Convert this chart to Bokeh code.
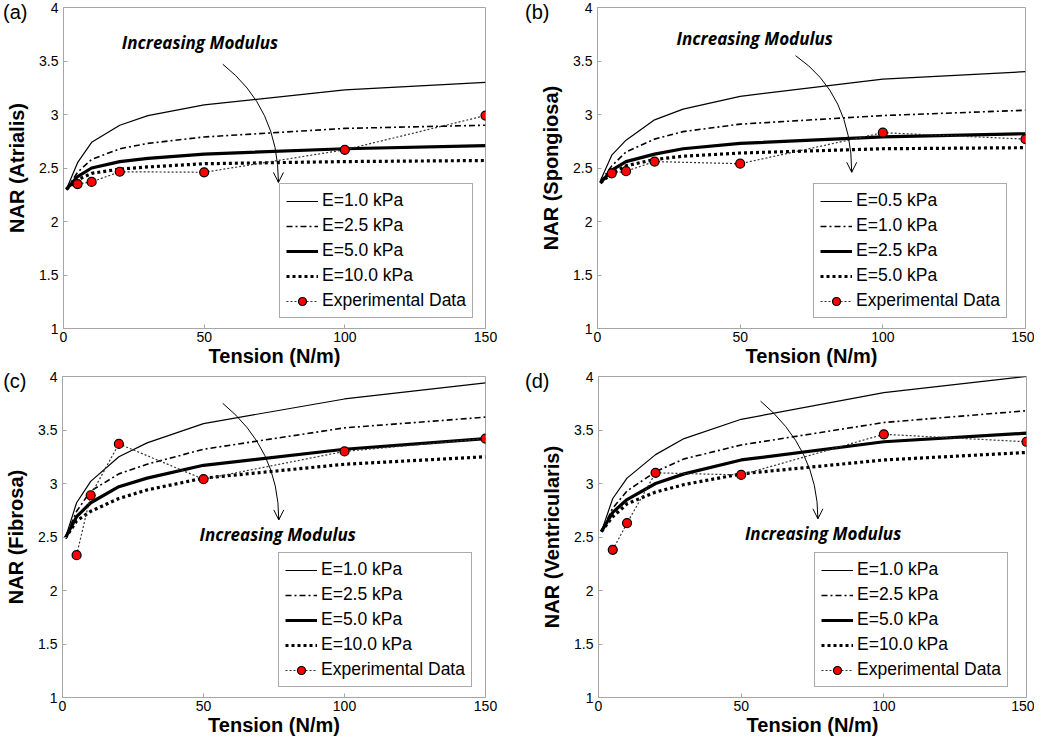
from bokeh.plotting import figure
from bokeh.layouts import column, row
from bokeh.models import (Range1d, FixedTicker, CustomJSTickFormatter, LinearAxis,
                          Legend, LegendItem, Label, Arrow, OpenHead)
from bokeh.embed import file_html
from bokeh.resources import INLINE

# ---------------- data ----------------
tension = [1, 5, 10, 20, 30, 50, 100, 150]
tension_exp = [5, 10, 20, 50, 100, 150]

x_ticks = [0, 50, 100, 150]
y_ticks = [1, 1.5, 2, 2.5, 3, 3.5, 4]

# (a) Atrialis
a_labels = ["E=1.0 kPa", "E=2.5 kPa", "E=5.0 kPa", "E=10.0 kPa", "Experimental Data"]
a_c1 = [2.30, 2.55, 2.74, 2.90, 2.99, 3.09, 3.23, 3.30]
a_c2 = [2.30, 2.46, 2.58, 2.68, 2.73, 2.79, 2.87, 2.90]
a_c3 = [2.30, 2.42, 2.50, 2.56, 2.59, 2.63, 2.68, 2.71]
a_c4 = [2.30, 2.39, 2.45, 2.49, 2.51, 2.54, 2.56, 2.57]
a_exp = [2.35, 2.37, 2.465, 2.46, 2.67, 2.99]

# (b) Spongiosa
b_labels = ["E=0.5 kPa", "E=1.0 kPa", "E=2.5 kPa", "E=5.0 kPa", "Experimental Data"]
b_c1 = [2.38, 2.62, 2.76, 2.95, 3.05, 3.17, 3.33, 3.40]
b_c2 = [2.37, 2.52, 2.65, 2.77, 2.84, 2.91, 2.99, 3.04]
b_c3 = [2.36, 2.48, 2.56, 2.63, 2.68, 2.73, 2.79, 2.82]
b_c4 = [2.36, 2.45, 2.52, 2.58, 2.61, 2.64, 2.68, 2.69]
b_exp = [2.45, 2.47, 2.56, 2.54, 2.83, 2.77]

# (c) Fibrosa
c_labels = ["E=1.0 kPa", "E=2.5 kPa", "E=5.0 kPa", "E=10.0 kPa", "Experimental Data"]
c_c1 = [2.49, 2.82, 3.02, 3.25, 3.38, 3.56, 3.79, 3.94]
c_c2 = [2.49, 2.74, 2.93, 3.09, 3.18, 3.32, 3.52, 3.62]
c_c3 = [2.49, 2.69, 2.82, 2.97, 3.05, 3.17, 3.32, 3.42]
c_c4 = [2.49, 2.65, 2.74, 2.86, 2.94, 3.05, 3.18, 3.25]
c_exp = [2.33, 2.89, 3.37, 3.04, 3.30, 3.42]

# (d) Ventricularis
d_labels = ["E=1.0 kPa", "E=2.5 kPa", "E=5.0 kPa", "E=10.0 kPa", "Experimental Data"]
d_c1 = [2.55, 2.86, 3.05, 3.27, 3.42, 3.60, 3.85, 4.00]
d_c2 = [2.55, 2.77, 2.93, 3.11, 3.23, 3.36, 3.57, 3.68]
d_c3 = [2.55, 2.73, 2.85, 3.00, 3.09, 3.22, 3.39, 3.47]
d_c4 = [2.55, 2.69, 2.81, 2.92, 2.99, 3.09, 3.22, 3.29]
d_exp = [2.38, 2.63, 3.10, 3.08, 3.46, 3.39]

# annotation positions (data units): text x,y ; arrow start, control, end
a_note = dict(tx=48.5, ty=3.67, x0=56.6, y0=3.47, cx=76.4, cy=3.06, x1=76.4, y1=2.365)
b_note = dict(tx=55.1, ty=3.71, x0=69.4, y0=3.55, cx=89.1, cy=3.19, x1=89.1, y1=2.46)
c_note = dict(tx=76.3, ty=2.52, x0=56.8, y0=3.75, cx=76.7, cy=3.32, x1=76.7, y1=2.66)
d_note = dict(tx=78.7, ty=2.53, x0=56.8, y0=3.77, cx=76.9, cy=3.32, x1=76.9, y1=2.67)

LETTER_Y = 3.97
FONT = "Liberation Sans"
GRAY = "#a6a6a6"


def make_panel(letter, letter_shift, ylabel, curves, exp, labels, note,
               width, height, bl, br, bt, bb):
    p = figure(width=width, height=height, output_backend="svg", toolbar_location=None,
               x_range=Range1d(0, 150), y_range=Range1d(1, 4),
               min_border_left=bl, min_border_right=br, min_border_top=bt,
               min_border_bottom=bb)
    p.xgrid.visible = False
    p.ygrid.visible = False
    p.outline_line_color = GRAY
    p.outline_line_width = 1
    p.background_fill_color = "white"
    p.border_fill_color = "white"

    for ax in (p.xaxis[0], p.yaxis[0]):
        ax.axis_line_color = GRAY
        ax.major_tick_line_color = GRAY
        ax.major_tick_in = 4
        ax.major_tick_out = 0
        ax.minor_tick_line_color = None
        ax.major_label_text_font = FONT
        ax.major_label_text_font_size = "14px"
        ax.major_label_text_color = "black"
        ax.axis_label_text_font = FONT
        ax.axis_label_text_font_size = "20px"
        ax.axis_label_text_font_style = "bold"
        ax.axis_label_text_color = "black"
    p.xaxis[0].ticker = FixedTicker(ticks=x_ticks)
    p.yaxis[0].ticker = FixedTicker(ticks=y_ticks)
    p.yaxis[0].formatter = CustomJSTickFormatter(code="return String(tick);")
    p.xaxis[0].major_label_standoff = 3
    p.xaxis[0].axis_label_standoff = 0
    p.yaxis[0].major_label_standoff = 5
    p.yaxis[0].axis_label_standoff = 8
    p.xaxis[0].axis_label = "Tension (N/m)"
    p.yaxis[0].axis_label = ylabel

    # panel letter, drawn as the single tick label of an outer, line-less axis
    letter_axis = LinearAxis(ticker=FixedTicker(ticks=[LETTER_Y]),
                             formatter=CustomJSTickFormatter(args=dict(t=letter), code="return t;"),
                             axis_line_color=None, major_tick_line_color=None,
                             minor_tick_line_color=None, major_tick_in=0, major_tick_out=0,
                             major_label_standoff=letter_shift,
                             major_label_text_font=FONT, major_label_text_font_size="20px",
                             major_label_text_color="black")
    p.add_layout(letter_axis, "left")

    c1, c2, c3, c4 = curves
    r1 = p.line(tension, c1, line_color="black", line_width=1.2)
    r2 = p.line(tension, c2, line_color="black", line_width=1.6, line_dash="6 3 2 3")
    r3 = p.line(tension, c3, line_color="black", line_width=3.2)
    r4 = p.line(tension, c4, line_color="black", line_width=3.2, line_dash="3 3")
    r5 = p.line(tension_exp, exp, line_color="#333333", line_width=1.2, line_dash="2 2")
    r6 = p.scatter(tension_exp, exp, marker="circle", size=9, fill_color="#ff0000",
                   line_color="black", line_width=1.2)

    # arrow + text
    p.quadratic(x0=[note["x0"]], y0=[note["y0"]], x1=[note["x1"]], y1=[note["y1"]],
                cx=[note["cx"]], cy=[note["cy"]], line_color="black", line_width=1)
    p.add_layout(Arrow(end=OpenHead(size=10, line_width=1, line_color="black"),
                       x_start=note["x1"], y_start=note["y1"] + 0.03,
                       x_end=note["x1"], y_end=note["y1"], line_width=1,
                       line_color="black"))
    p.add_layout(Label(x=note["tx"], y=note["ty"], text="Increasing Modulus",
                       text_font="Open Sans", text_font_style="bold italic",
                       text_font_size="17px", text_align="center",
                       text_baseline="middle", text_color="black"))

    legend = Legend(items=[
        LegendItem(label=labels[0], renderers=[r1]),
        LegendItem(label=labels[1], renderers=[r2]),
        LegendItem(label=labels[2], renderers=[r3]),
        LegendItem(label=labels[3], renderers=[r4]),
        LegendItem(label=labels[4], renderers=[r5, r6]),
    ], location=(216, 10))
    legend.border_line_color = "#555555"
    legend.border_line_width = 1
    legend.background_fill_color = "white"
    legend.background_fill_alpha = 1
    legend.label_text_font = FONT
    legend.label_text_font_size = "17.5px"
    legend.label_text_color = "black"
    legend.glyph_width = 32
    legend.glyph_height = 20
    legend.label_height = 20
    legend.label_standoff = 4
    legend.padding = 6
    legend.spacing = 4
    legend.margin = 0
    p.add_layout(legend, "center")
    return p


pa = make_panel("(a)", -24, "NAR (Atrialis)", (a_c1, a_c2, a_c3, a_c4), a_exp, a_labels, a_note,
                522, 369, 55, 37, 7, 40)
pb = make_panel("(b)", -12, "NAR (Spongiosa)", (b_c1, b_c2, b_c3, b_c4), b_exp, b_labels, b_note,
                512, 369, 74, 9, 7, 40)
pc = make_panel("(c)", -24, "NAR (Fibrosa)", (c_c1, c_c2, c_c3, c_c4), c_exp, c_labels, c_note,
                522, 369, 55, 37, 7, 40)
pd = make_panel("(d)", -11, "NAR (Ventricularis)", (d_c1, d_c2, d_c3, d_c4), d_exp, d_labels, d_note,
                512, 369, 76, 8, 7, 40)

layout = column(row(pa, pb), row(pc, pd))
open("out.html", "w").write(file_html(layout, INLINE))
